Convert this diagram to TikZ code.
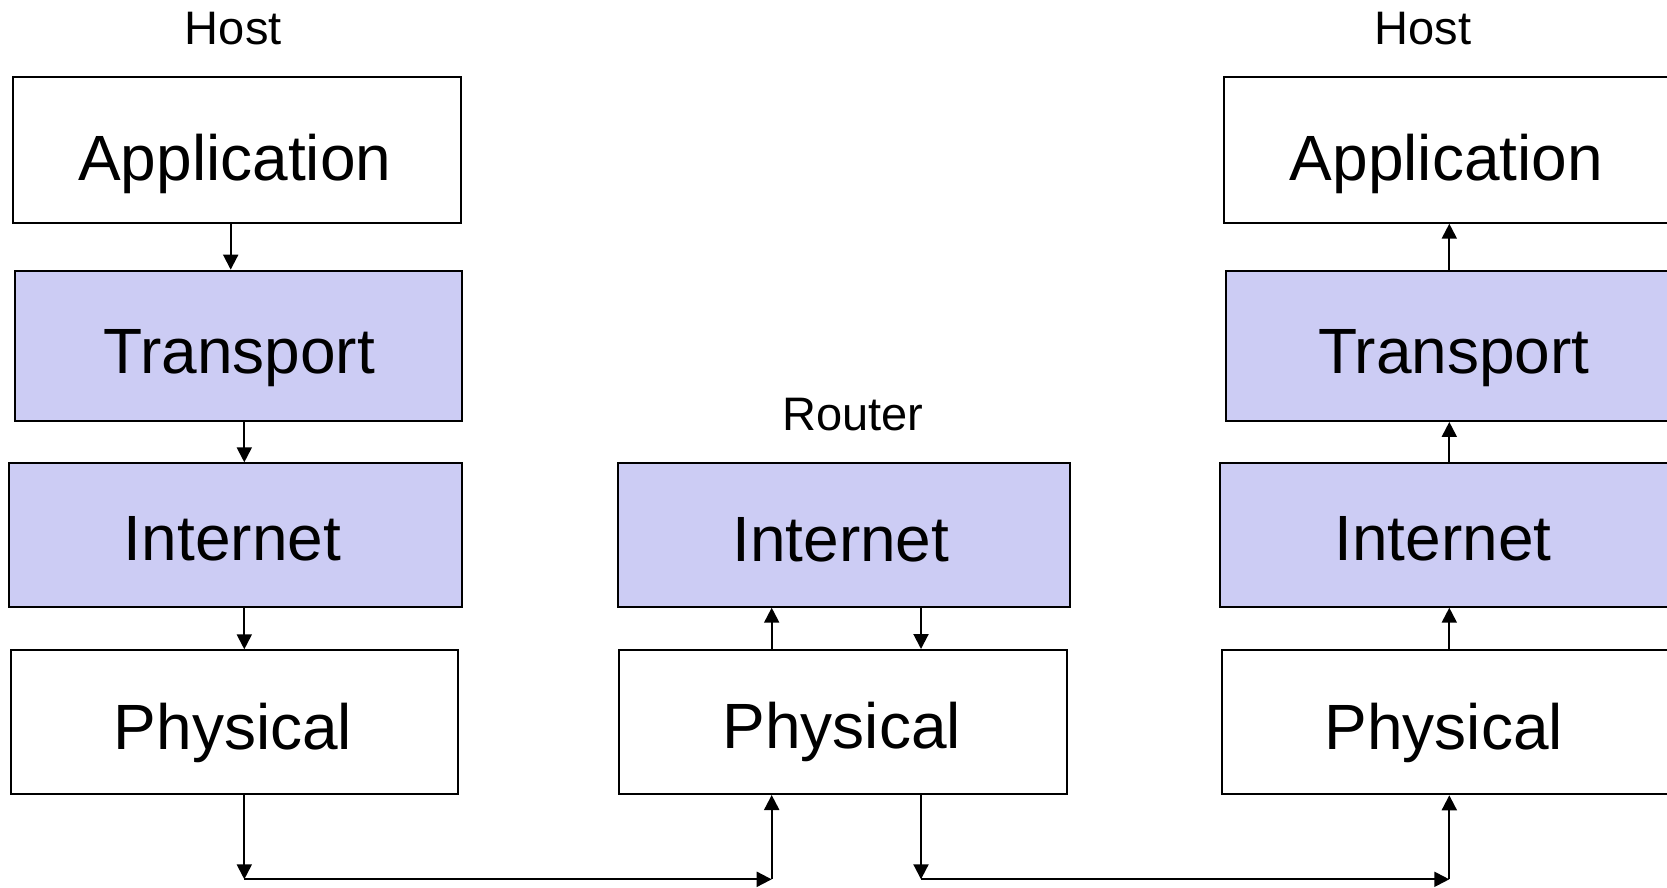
\documentclass[tikz,border=0pt]{standalone}
\usepackage{fontspec}
\setmainfont{Liberation Sans}
\usetikzlibrary{arrows.meta}
\definecolor{layerfill}{RGB}{204,204,244}
\tikzset{
  layer/.style={draw=black, line width=2pt, inner sep=0pt, anchor=center},
  plain/.style={layer, fill=white},
  shaded/.style={layer, fill=layerfill},
  bigtext/.style={anchor=base, inner sep=0pt, font=\fontsize{64}{76}\selectfont},
  title/.style={anchor=base, inner sep=0pt, font=\fontsize{47}{56}\selectfont},
  arr/.style={line width=2pt, -{Triangle[width=15pt,length=15pt]}},
}
\begin{document}
\begin{tikzpicture}[x=1pt, y=-1pt]
  \useasboundingbox (0,0) rectangle (1667,887);
  \clip (0,0) rectangle (1667,887);

  % sending host
  \node[plain,  minimum width=447.7pt, minimum height=146pt]   (lapp) at (237.2,149.7) {};
  \node[shaded, minimum width=447pt,   minimum height=150.3pt] (ltra) at (238.2,345.8) {};
  \node[shaded, minimum width=453pt,   minimum height=143.4pt] (lint) at (235.5,535) {};
  \node[plain,  minimum width=447.3pt, minimum height=144pt]   (lphy) at (234.3,722.3) {};

  % router
  \node[shaded, minimum width=451.8pt, minimum height=143.4pt] (rint) at (843.6,535) {};
  \node[plain,  minimum width=447.4pt, minimum height=144pt]   (rphy) at (843,722) {};

  % receiving host
  \node[plain,  minimum width=448pt, minimum height=146pt]   (happ) at (1448,149.7) {};
  \node[shaded, minimum width=447pt, minimum height=150.3pt] (htra) at (1449.5,345.8) {};
  \node[shaded, minimum width=453pt, minimum height=143.4pt] (hint) at (1446.5,535) {};
  \node[plain,  minimum width=447pt, minimum height=144pt]   (hphy) at (1445.2,722.3) {};

  % captions
  \node[title] (lhost)  at (233.3,44.3)  {Host};
  \node[title] (rhost)  at (1423,44.3)   {Host};
  \node[title] (router) at (852.7,430.7) {Router};

  % layer names
  \node[bigtext] (tlapp) at (234.7,180)   {Application};
  \node[bigtext] (tltra) at (239.2,373.3) {Transport};
  \node[bigtext] (tlint) at (232.5,560.7) {Internet};
  \node[bigtext] (tlphy) at (233,749.3)   {Physical};
  \node[bigtext] (trint) at (840.8,561)   {Internet};
  \node[bigtext] (trphy) at (841.7,748.3) {Physical};
  \node[bigtext] (thapp) at (1446.3,180)  {Application};
  \node[bigtext] (thtra) at (1453.8,373.3){Transport};
  \node[bigtext] (thint) at (1443,560.7)  {Internet};
  \node[bigtext] (thphy) at (1443.8,749.3){Physical};

  % vertical lines the connectors run along
  \coordinate (xa) at (230.7,0);
  \coordinate (xb) at (244.3,0);
  \coordinate (xc) at (771.7,0);
  \coordinate (xd) at (921,0);
  \coordinate (xe) at (1449.3,0);
  \coordinate (wire) at (0,879.3);

  % down the sending stack
  \draw[arr] (lapp.south -| xa) -- (ltra.north -| xa);
  \draw[arr] (ltra.south -| xb) -- (lint.north -| xb);
  \draw[arr] (lint.south -| xb) -- (lphy.north -| xb);

  % through the router
  \draw[arr] (rphy.north -| xc) -- (rint.south -| xc);
  \draw[arr] (rint.south -| xd) -- (rphy.north -| xd);

  % up the receiving stack
  \draw[arr] (hphy.north -| xe) -- (hint.south -| xe);
  \draw[arr] (hint.north -| xe) -- (htra.south -| xe);
  \draw[arr] (htra.north -| xe) -- (happ.south -| xe);

  % the links between machines
  \coordinate (b1) at (xb |- wire);
  \coordinate (b2) at (xc |- wire);
  \coordinate (b3) at (xd |- wire);
  \coordinate (b4) at (xe |- wire);
  \draw[arr] (lphy.south -| xb) -- (b1);
  \draw[arr] (b1) -- (b2);
  \draw[arr] (b2) -- (rphy.south -| xc);
  \draw[arr] (rphy.south -| xd) -- (b3);
  \draw[arr] (b3) -- (b4);
  \draw[arr] (b4) -- (hphy.south -| xe);
\end{tikzpicture}
\end{document}
